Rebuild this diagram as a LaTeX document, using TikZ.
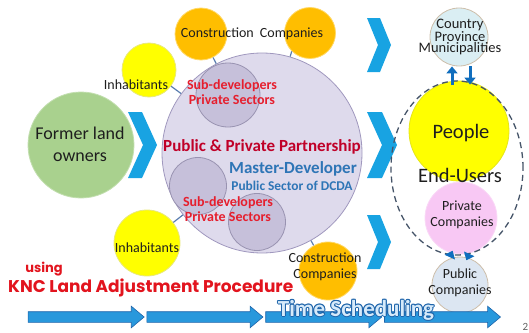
\documentclass[tikz,border=0pt]{standalone}
\usepackage{fontspec}
\setmainfont{Carlito}
\newfontfamily\kncfont{Poppins}
\usepackage{tikz}
\usetikzlibrary{shapes.geometric, shapes.arrows, arrows.meta, positioning}

\definecolor{ownergreen}{RGB}{169,209,142}
\definecolor{amber}{RGB}{255,190,0}
\definecolor{sun}{RGB}{255,255,0}
\definecolor{lilac}{RGB}{222,218,236}
\definecolor{lilacdark}{RGB}{198,192,218}
\definecolor{lilacedge}{RGB}{160,152,190}
\definecolor{govblue}{RGB}{218,238,243}
\definecolor{pinkco}{RGB}{248,200,244}
\definecolor{pubco}{RGB}{220,230,242}
\definecolor{tanedge}{RGB}{205,190,170}
\definecolor{chevblue}{RGB}{24,163,226}
\definecolor{arrowfill}{RGB}{40,152,220}
\definecolor{arrowedge}{RGB}{30,100,170}
\definecolor{updownblue}{RGB}{16,110,190}
\definecolor{linkblue}{RGB}{90,125,175}
\definecolor{ppred}{RGB}{192,0,40}
\definecolor{subred}{RGB}{230,30,45}
\definecolor{masterblue}{RGB}{46,117,182}
\definecolor{kncred}{RGB}{226,20,30}
\definecolor{ink}{RGB}{30,30,30}
\definecolor{dashgray}{RGB}{70,85,105}
\definecolor{tsfill}{RGB}{214,234,250}

\tikzstyle{disc} = [circle, inner sep=0pt, line width=0.8pt]
\tikzstyle{owner} = [disc, minimum size=106pt, fill=ownergreen, draw=ownergreen!70!white]
\tikzstyle{partner} = [disc, minimum size=200pt, fill=lilac, draw=lilacedge]
\tikzstyle{subdev} = [disc, fill=lilacdark, draw=lilacedge!80!gray]
\tikzstyle{builder} = [disc, fill=amber, draw=amber!60!white]
\tikzstyle{resident} = [disc, fill=sun, draw=sun!70!gray!60!white]
\tikzstyle{enduser} = [disc, minimum size=100pt, fill=sun, draw=sun!80!gray]
\tikzstyle{lbl} = [inner sep=0pt, align=center, text=ink, font=\fontsize{14}{16}\selectfont]
\tikzstyle{subtxt} = [inner sep=0pt, align=center, text=subred, font=\bfseries\fontsize{14}{15}\selectfont]
\tikzstyle{link} = [draw=linkblue, line width=1.2pt]
\tikzstyle{chevron} = [fill=chevblue]
\tikzstyle{timebar} = [single arrow, single arrow head extend=5.5pt, single arrow tip angle=80,
  inner xsep=0pt, inner ysep=5pt, minimum height=116pt, fill=arrowfill, draw=arrowedge, line width=0.6pt]
\tikzstyle{updown} = [draw=updownblue, line width=3pt, -{Triangle[width=11pt,length=7pt]}]
\tikzstyle{tstext} = [inner sep=0pt, anchor=base, font=\bfseries\fontsize{23}{25}\selectfont]

\begin{document}
\begin{tikzpicture}[x=1pt, y=-1pt]
  \useasboundingbox (0,0) rectangle (529,332);

  % partnership circle with the sub-developers inside
  \node (ppp) [partner] at (262,153) {};
  \node (sub1) [subdev, minimum size=64pt] at (228,95) {};
  \node (sub2) [subdev, minimum size=57pt] at (198,186) {};
  \node (sub3) [subdev, minimum size=57pt] at (257,222) {};

  % actors round the partnership
  \node (owners) [owner] at (81,145) {};
  \node (cc1) [builder, minimum size=52pt] at (201,34) {};
  \node (cc2) [builder, minimum size=51pt] at (310,33) {};
  \node (cc3) [builder, minimum size=58pt] at (328,271) {};
  \node (inh1) [resident, minimum size=54pt] at (149,70) {};
  \node (inh2) [resident, minimum size=66pt] at (147,243) {};

  \draw [link] (cc1) -- (ppp);
  \draw [link] (cc2.225) -- (ppp);
  \draw [link] (inh1) -- (ppp);
  \draw [link] (inh2) -- (ppp);
  \draw [link] (cc3) -- (ppp);

  % chevrons
  \fill [chevron] (128,112) -- ++(14,0) -- ++(15,33) -- ++(-15,33) -- ++(-14,0) -- ++(15,-33) -- cycle;
  \fill [chevron] (367,112) -- ++(15,0) -- ++(15,33) -- ++(-15,33) -- ++(-15,0) -- ++(15,-33) -- cycle;
  \foreach \y in {18,215}
    \fill [chevron] (367,\y) -- ++(13,0) -- ++(11,27) -- ++(-11,27) -- ++(-13,0) -- ++(11,-27) -- cycle;

  % end users
  \node (gov) [disc, minimum size=58pt, fill=govblue, draw=tanedge] at (459,37) {};
  \node (people) [enduser] at (459,131) {};
  \node (private) [disc, minimum size=72pt, fill=pinkco, draw=pinkco!70!white] at (461,218) {};
  \node (public) [disc, minimum size=56pt, fill=pubco, draw=tanedge] at (460,285) {};
  \node (users) [ellipse, minimum width=132pt, minimum height=174pt, draw=dashgray,
    line width=1.3pt, dash pattern=on 6pt off 4pt] at (457,168) {};

  \draw [updown, shorten <=-4pt] ([xshift=-7pt]people.north) -- ([xshift=-7pt]gov.south);
  \draw [updown, shorten >=-4pt] ([xshift=11pt]gov.south) -- ([xshift=11pt]people.north);
  \draw [updown, shorten <=-4pt, shorten >=-4pt] ([xshift=-10pt]public.north) -- ([xshift=-10pt]private.south);
  \draw [updown, shorten <=-4pt, shorten >=-4pt] ([xshift=8pt]private.south) -- ([xshift=8pt]public.north);

  % labels
  \node (ownertxt) [lbl, font=\fontsize{18}{22}\selectfont] at (80,144) {Former land\\owners};
  \node (cctxt) [lbl] at (252,34) {Construction\hspace{3pt} Companies};
  \node (inh1txt) [lbl] at (136,85) {Inhabitants};
  \node (inh2txt) [lbl] at (147,248) {Inhabitants};
  \node (cc3txt) [lbl] at (325,267) {Construction\\Companies};
  \node (sub1txt) [subtxt] at (232,92) {Sub-developers\\Private Sectors};
  \node (sub2txt) [subtxt] at (228,209) {Sub-developers\\Private Sectors};
  \node (ppptxt) [inner sep=0pt, text=ppred, font=\bfseries\fontsize{17}{19}\selectfont] at (262,147) {Public \& Private Partnership};
  \node (mastertxt) [inner sep=0pt, text=masterblue, font=\bfseries\fontsize{17}{19}\selectfont] at (293,169) {Master-Developer};
  \node (sectortxt) [inner sep=0pt, text=masterblue, font=\bfseries\fontsize{13.4}{15}\selectfont] at (292,186) {Public Sector of DCDA};
  \node (govtxt) [lbl, font=\fontsize{14.5}{11.5}\selectfont] at (460,37) {Country\\Province\\Municipalities};
  \node (peopletxt) [lbl, font=\fontsize{20.5}{22}\selectfont] at (461,133) {People};
  \node (userstxt) [lbl, font=\fontsize{20.5}{22}\selectfont] at (460,175) {End-Users};
  \node (privatetxt) [lbl] at (462,215) {Private\\Companies};
  \node (publictxt) [lbl] at (460,283) {Public\\Companies};

  \node (using) [inner sep=0pt, text=kncred, font=\kncfont\bfseries\fontsize{13}{15}\selectfont] at (44,269) {using};
  \node (knc) [inner sep=0pt, anchor=west, text=kncred, font=\kncfont\bfseries\fontsize{17}{19}\selectfont] at (8,288) {KNC Land Adjustment Procedure};

  % time line
  \node (a1) [timebar] at (83,317) {};
  \node (a2) [timebar, right=2pt of a1] {};
  \node (a3) [timebar, right=2pt of a2] {};
  \node (a4) [timebar, right=2pt of a3] {};
  \foreach \dx/\dy in {-1/0,1/0,0/-1,0/1,-0.7/-0.7,0.7/-0.7,-0.7/0.7,0.7/0.7}
    \node [tstext, text=arrowedge, xshift=\dx pt, yshift=\dy pt] at (356,316) {Time Scheduling};
  \node (timing) [tstext, text=tsfill] at (356,316) {Time Scheduling};

  \node (pageno) [inner sep=0pt, text=ink!70, font=\fontsize{11}{12}\selectfont, anchor=base east] at (528.5,330) {2};
\end{tikzpicture}
\end{document}
